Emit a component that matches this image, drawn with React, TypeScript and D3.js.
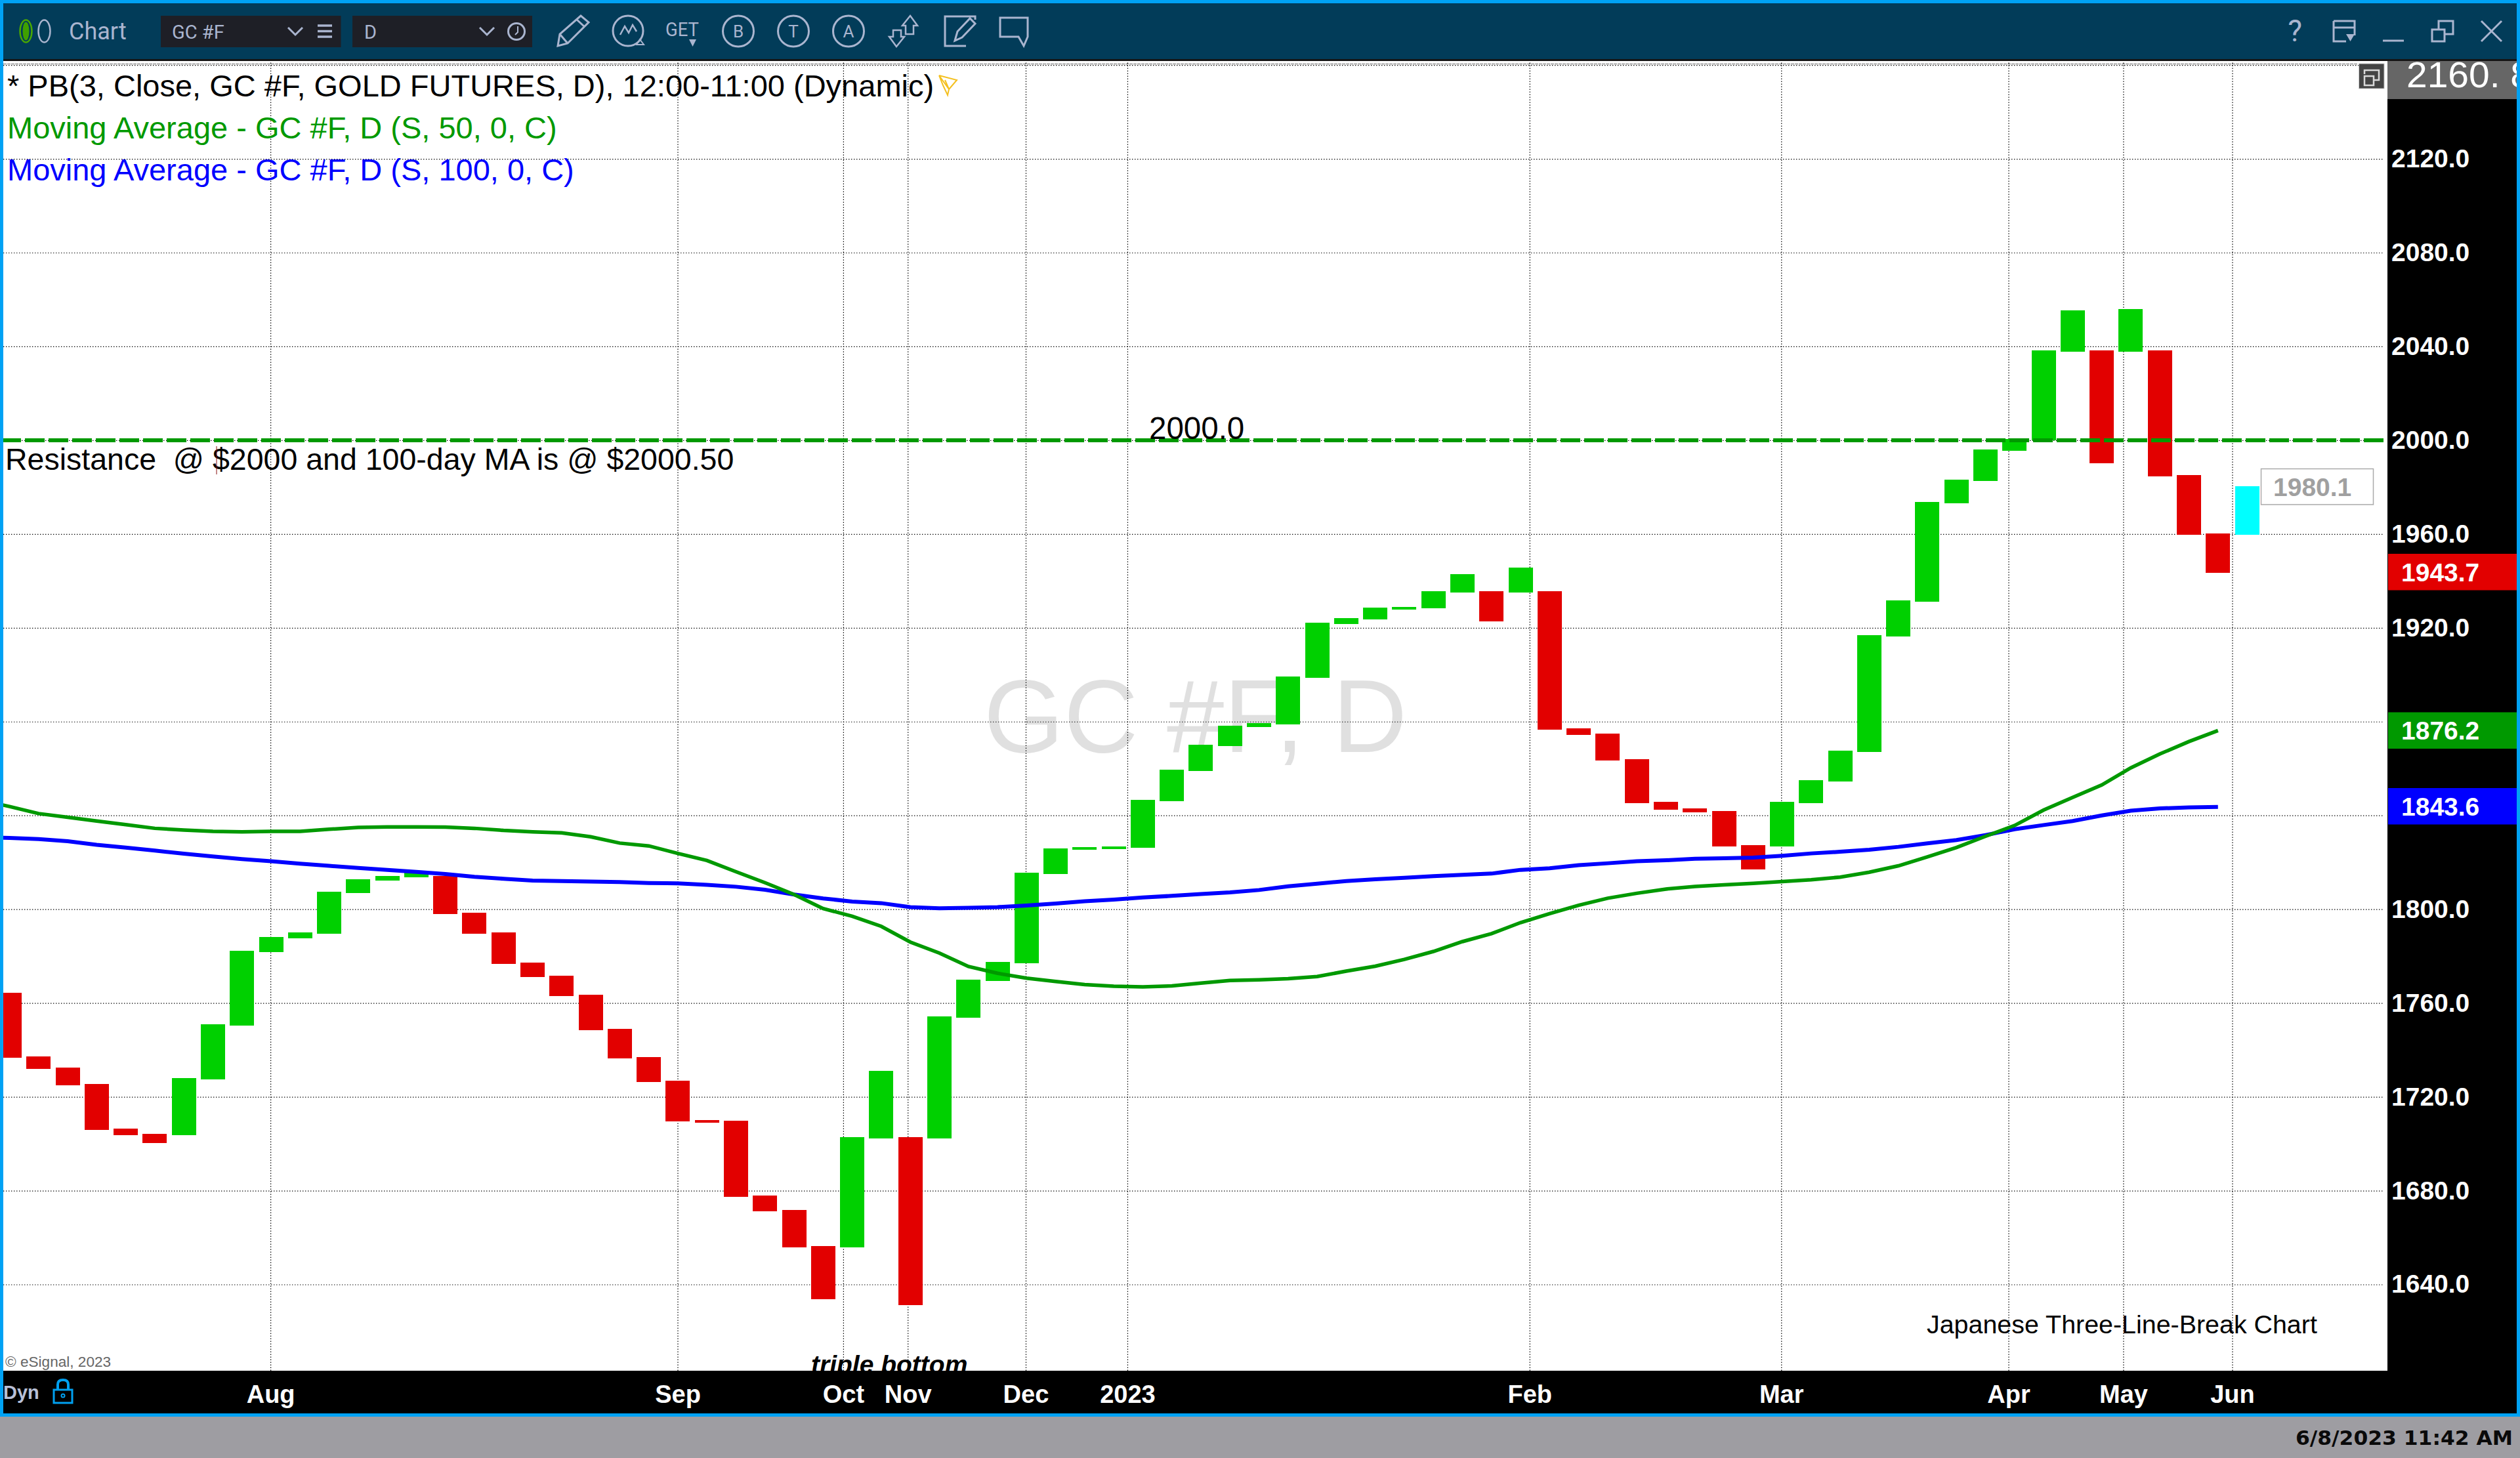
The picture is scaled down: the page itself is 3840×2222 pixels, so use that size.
import React, { useEffect, useRef } from 'react';
import * as d3 from 'd3';

// three-line-break bricks, one per column
const barTop = [
  1764.4, 1737.3, 1732.5, 1725.5, 1706.4, 1704.2, 1728.0, 1751.0, 1782.2, 1788.1,
  1790.1, 1807.4, 1812.8, 1814.2, 1816.1, 1814.2, 1798.5, 1790.1, 1777.2, 1771.6,
  1763.5, 1748.9, 1736.9, 1726.9, 1710.1, 1709.8, 1677.9, 1671.8, 1656.4, 1702.8,
  1731.0, 1702.8, 1754.3, 1770.0, 1777.6, 1815.6, 1826.0, 1826.6, 1826.8, 1846.7,
  1859.5, 1870.2, 1878.2, 1879.4, 1899.2, 1922.2, 1924.2, 1928.7, 1928.9, 1935.6,
  1942.9, 1935.6, 1945.7, 1935.6, 1877.1, 1874.9, 1864.0, 1845.8, 1843.0, 1842.0,
  1827.3, 1845.8, 1855.0, 1867.6, 1916.9, 1931.6, 1973.7, 1983.2, 1996.1, 2000.5,
  2038.2, 2055.4, 2038.2, 2055.9, 2038.2, 1985.1, 1960.2, 1980.4,
];
const barBottom = [
  1736.6, 1731.9, 1725.0, 1705.9, 1703.6, 1700.3, 1703.6, 1727.4, 1750.3, 1781.7,
  1787.6, 1789.5, 1806.9, 1812.2, 1813.6, 1798.0, 1789.5, 1776.7, 1771.1, 1763.0,
  1748.4, 1736.4, 1726.3, 1709.5, 1708.9, 1677.4, 1671.2, 1655.8, 1633.7, 1655.8,
  1702.2, 1631.3, 1702.2, 1753.7, 1769.5, 1777.0, 1815.0, 1825.4, 1825.7, 1826.3,
  1846.1, 1859.0, 1869.5, 1877.7, 1878.9, 1898.7, 1921.6, 1923.6, 1927.8, 1928.3,
  1935.1, 1922.8, 1935.1, 1876.6, 1874.4, 1863.4, 1845.2, 1842.4, 1841.3, 1826.7,
  1817.0, 1826.7, 1845.2, 1854.4, 1867.1, 1916.3, 1931.1, 1973.1, 1982.6, 1995.5,
  2000.0, 2037.8, 1990.2, 2037.8, 1984.6, 1959.7, 1943.5, 1959.7,
];
// d = down, u = up, c = the unfinished brick
const barKind = [
  'd', 'd', 'd', 'd', 'd', 'd', 'u', 'u', 'u', 'u', 'u', 'u', 'u', 'u', 'u', 'd', 'd', 'd', 'd', 'd',
  'd', 'd', 'd', 'd', 'd', 'd', 'd', 'd', 'd', 'u', 'u', 'd', 'u', 'u', 'u', 'u', 'u', 'u', 'u', 'u',
  'u', 'u', 'u', 'u', 'u', 'u', 'u', 'u', 'u', 'u', 'u', 'd', 'u', 'd', 'd', 'd', 'd', 'd', 'd', 'd',
  'd', 'u', 'u', 'u', 'u', 'u', 'u', 'u', 'u', 'u', 'u', 'u', 'd', 'u', 'd', 'd', 'd', 'c',
];

// moving averages, first value sits one column left of the first brick
const ma50 = [
  1846.6, 1843.8, 1840.8, 1839.2, 1837.6, 1836.1, 1834.5, 1833.8, 1833.2, 1833.0,
  1833.2, 1833.2, 1834.1, 1834.9, 1835.1, 1835.1, 1835.0, 1834.5, 1833.6, 1833.0,
  1832.6, 1830.9, 1828.2, 1827.0, 1823.8, 1820.8, 1816.0, 1811.3, 1806.3, 1800.3,
  1797.0, 1792.7, 1786.0, 1781.3, 1775.6, 1772.7, 1770.6, 1769.2, 1767.9, 1767.2,
  1766.9, 1767.3, 1768.5, 1769.6, 1769.9, 1770.4, 1771.3, 1773.6, 1775.7, 1778.6,
  1782.0, 1786.2, 1789.6, 1794.3, 1798.1, 1801.7, 1804.7, 1806.8, 1808.6, 1809.7,
  1810.4, 1811.0, 1811.8, 1812.6, 1813.7, 1815.8, 1818.5, 1822.3, 1826.3, 1831.1,
  1835.7, 1842.3, 1847.7, 1853.0, 1860.3, 1866.2, 1871.5, 1876.2,
];
const ma100 = [
  1830.7, 1830.4, 1829.9, 1829.0, 1827.5, 1826.3, 1825.0, 1823.7, 1822.5, 1821.4,
  1820.5, 1819.4, 1818.5, 1817.6, 1816.8, 1815.9, 1815.0, 1813.8, 1813.0, 1812.2,
  1812.0, 1811.8, 1811.6, 1811.2, 1811.0, 1810.4, 1809.6, 1808.3, 1806.3, 1804.6,
  1803.3, 1802.6, 1800.9, 1800.4, 1800.6, 1800.9, 1801.6, 1802.4, 1803.4, 1804.1,
  1805.0, 1805.7, 1806.5, 1807.2, 1808.2, 1809.8, 1810.9, 1812.0, 1812.8, 1813.4,
  1814.1, 1814.7, 1815.2, 1816.8, 1817.5, 1818.8, 1819.6, 1820.5, 1820.9, 1821.5,
  1821.7, 1822.0, 1822.8, 1823.8, 1824.5, 1825.4, 1826.6, 1828.1, 1829.5, 1831.6,
  1834.1, 1835.9, 1837.6, 1840.0, 1842.0, 1843.0, 1843.4, 1843.6,
];

// 1840.0 sits fully under the blue quote box, so it gets a grid line but no label
const priceTicks = [1640, 1680, 1720, 1760, 1800, 1880, 1920, 1960, 2000, 2040, 2080, 2120];
const gridTicks = [...priceTicks, 1840, 2160];
const monthNames = ['Aug', 'Sep', 'Oct', 'Nov', 'Dec', '2023', 'Feb', 'Mar', 'Apr', 'May', 'Jun'];
const monthBars = [8.98, 22.99, 28.69, 30.91, 34.97, 38.47, 52.31, 60.97, 68.79, 72.74, 76.49];

const resistance = 2000;
const lastQuote = 1943.7;
const liveQuote = 1980.1;
const ma50Quote = 1876.2;
const ma100Quote = 1843.6;

const W = 3840;
const H = 2222;
const plot = { left: 5, right: 3638, top: 93, bottom: 2089 };
const SANS = '"Liberation Sans", Arial, sans-serif';
const CHROME = '#aab5cf';
const kindColor: Record<string, string> = { d: '#e20000', u: '#00d000', c: '#00ffff' };

type Sel = d3.Selection<any, unknown, null, undefined>;

const text = (g: Sel, x: number, y: number, str: string, size: number, fill: string, extra: Record<string, any> = {}) => {
  const t = g.append('text')
    .attr('x', x).attr('y', y)
    .attr('font-family', SANS)
    .attr('font-size', size)
    .attr('fill', fill)
    .style('white-space', 'pre')
    .text(str);
  Object.entries(extra).forEach(([k, v]) => t.attr(k, v));
  return t;
};

const path = (g: Sel, d: string, color = CHROME, sw = 3) =>
  g.append('path').attr('d', d).attr('fill', 'none').attr('stroke', color).attr('stroke-width', sw);

const circle = (g: Sel, cx: number, cy: number, r: number, color = CHROME, sw = 3) =>
  g.append('circle').attr('cx', cx).attr('cy', cy).attr('r', r).attr('fill', 'none').attr('stroke', color).attr('stroke-width', sw);

const box = (g: Sel, x: number, y: number, w: number, h: number, fill: string) =>
  g.append('rect').attr('x', x).attr('y', y).attr('width', w).attr('height', h).attr('fill', fill);

function drawToolbar(g: Sel) {
  box(g, 0, 0, W, 5, '#00a2f4');
  box(g, 5, 5, W - 10, 85, '#023c59');
  box(g, 5, 90, W - 10, 3, '#151515');

  // chart status rings
  g.append('ellipse').attr('cx', 39.5).attr('cy', 47.5).attr('rx', 5).attr('ry', 14).attr('fill', '#3fa000');
  g.append('ellipse').attr('cx', 39.5).attr('cy', 47.5).attr('rx', 9).attr('ry', 17).attr('fill', 'none').attr('stroke', '#4aa800').attr('stroke-width', 2.5);
  g.append('ellipse').attr('cx', 67.5).attr('cy', 47.5).attr('rx', 9).attr('ry', 17).attr('fill', '#023c59').attr('stroke', CHROME).attr('stroke-width', 2.5);

  text(g, 105, 60, 'Chart', 36, CHROME, { 'font-family': 'Roboto' });

  box(g, 245, 24, 274.5, 48, '#1e1f26');
  box(g, 537, 24, 274, 48, '#1e1f26');
  text(g, 262, 59, 'GC #F', 29, CHROME, { 'font-family': 'Roboto' });
  text(g, 555, 59, 'D', 29, CHROME, { 'font-family': 'Roboto' });
  path(g, 'M439 42 L450 53 L461 42');
  path(g, 'M731 42 L742 53 L753 42');
  path(g, 'M484 39 H506 M484 47.5 H506 M484 56 H506', CHROME, 3.5);
  circle(g, 787, 48, 12.5);
  path(g, 'M789 40 V49 L785 53', CHROME, 2);

  // drawing tools
  path(g, 'M850 70 L853 52 L885 24 L897 34 L865 66 Z M853 52 L865 66 M879 30 L891 41');
  circle(g, 957, 47, 23);
  path(g, 'M945 53 L952 40 L958 50 L964 38 L970 48', CHROME, 2.5);
  path(g, 'M975 60 L970 68 L981 68 Z', CHROME, 2);
  text(g, 1014, 55, 'GET', 30, CHROME, { 'font-family': 'Roboto', textLength: 51, lengthAdjust: 'spacingAndGlyphs' });
  g.append('path').attr('d', 'M1050 60 H1061 L1055.5 71 Z').attr('fill', CHROME);
  ['B', 'T', 'A'].forEach((c, i) => {
    const cx = 1125 + i * 84;
    circle(g, cx, 47.5, 23.5);
    text(g, cx, 57, c, 26, CHROME, { 'text-anchor': 'middle', 'font-family': 'Roboto' });
  });
  path(g, 'M1387 24 L1398 39 H1392 V52 H1380 V39 H1375 Z', CHROME, 2.5);
  path(g, 'M1366 71 L1355 56 H1361 V46 H1373 V56 H1378 Z', CHROME, 2.5);
  path(g, 'M1486 30 V25 H1440 V70 H1472 M1455 62 L1459 48 L1478 28 L1486 36 L1466 57 Z');
  path(g, 'M1524 27 H1566 V56 L1560 70 L1552 56 H1524 Z');

  // window controls
  text(g, 3497, 63, '?', 46, CHROME, { 'text-anchor': 'middle', 'font-family': 'Roboto' });
  path(g, 'M3556 32 H3588 V54 M3556 32 V63 H3575 M3556 42 H3588');
  g.append('path').attr('d', 'M3575 52 H3588 L3581.5 63 Z').attr('fill', CHROME);
  path(g, 'M3631 62 H3663');
  path(g, 'M3706 45 H3725 V63 H3706 Z M3716 45 V32 H3738 V52 H3725');
  path(g, 'M3781 32 L3812 63 M3812 32 L3781 63');
}

function drawPlot(g: Sel, x: d3.ScaleLinear<number, number>, y: d3.ScaleLinear<number, number>) {
  const plotW = plot.right - plot.left;
  const plotH = plot.bottom - plot.top;

  g.append('clipPath').attr('id', 'plot-clip').append('rect')
    .attr('x', plot.left).attr('y', plot.top).attr('width', plotW).attr('height', plotH);

  box(g, plot.left, plot.top, plotW, plotH, '#ffffff');

  // watermark
  text(g, 1499, 1146, 'GC #F, D', 158, '#e0e0e0', { textLength: 645, lengthAdjust: 'spacingAndGlyphs' });

  // dotted grid
  const gridY = g.append('g')
    .attr('transform', `translate(${plot.left},0)`)
    .call(d3.axisRight(y).tickValues(gridTicks).tickSize(plotW - 6).tickFormat(() => ''));
  const gridX = g.append('g')
    .attr('transform', `translate(0,${plot.bottom})`)
    .call(d3.axisTop(x).tickValues(monthBars).tickSize(plotH).tickFormat(() => ''));
  [gridY, gridX].forEach(a => {
    a.select('.domain').remove();
    a.selectAll('line').attr('stroke', '#000').attr('stroke-width', 1.2).attr('stroke-dasharray', '1.4 2.6');
  });
  g.append('line').attr('x1', plot.left).attr('x2', plot.right - 45).attr('y1', 97.5).attr('y2', 97.5)
    .attr('stroke', '#666').attr('stroke-width', 1).attr('stroke-dasharray', '5 1');

  // legend
  text(g, 11, 147, '* PB(3, Close, GC #F, GOLD FUTURES, D), 12:00-11:00 (Dynamic)', 47, '#000000');
  text(g, 11, 211, 'Moving Average - GC #F, D (S, 50, 0, C)', 47, '#009900');
  text(g, 11, 275, 'Moving Average - GC #F, D (S, 100, 0, C)', 47, '#0000ff');
  path(g, 'M1431 115 L1446 136 L1444 145 L1437 130 Z M1431 115 L1458 122 L1446 136 M1440 122 L1446 136', '#f4c020', 2);

  const clipped = g.append('g').attr('clip-path', 'url(#plot-clip)');

  clipped.selectAll('rect.brick')
    .data(barTop)
    .join('rect')
    .attr('class', 'brick')
    .attr('x', (_, i) => x(i) - 18.5)
    .attr('width', 37)
    .attr('y', d => y(d))
    .attr('height', (d, i) => y(barBottom[i]) - y(d))
    .attr('fill', (_, i) => kindColor[barKind[i]])
    .attr('shape-rendering', 'crispEdges');

  const maLine = d3.line<number>()
    .x((_, i) => x(i - 1))
    .y(d => y(d));
  [
    { data: ma100, color: '#0000ff', width: 6 },
    { data: ma50, color: '#009900', width: 5.5 },
  ].forEach(s => {
    clipped.append('path')
      .attr('d', maLine(s.data))
      .attr('fill', 'none')
      .attr('stroke', s.color)
      .attr('stroke-width', s.width);
  });

  // resistance line
  clipped.append('line')
    .attr('x1', 2).attr('x2', 3632)
    .attr('y1', y(resistance)).attr('y2', y(resistance))
    .attr('stroke', '#009900').attr('stroke-width', 6).attr('stroke-dasharray', '30 6');

  text(g, 1751, 669, '2000.0', 47.5, '#000000');
  text(g, 8, 716, 'Resistance  @ $2000 and 100-day MA is @ $2000.50', 46.5, '#000000');
  g.append('line').attr('x1', 330).attr('x2', 330).attr('y1', 680).attr('y2', 723).attr('stroke', '#8a1010').attr('stroke-width', 1);

  text(g, 1236, 2093, 'triple bottom', 39, '#000000', { 'font-weight': 'bold', 'font-style': 'italic' });
  text(g, 2936, 2032, 'Japanese Three-Line-Break Chart', 39.4, '#000000');
  text(g, 8, 2083, '© eSignal, 2023', 22.6, '#666666');

  // unfinished brick quote
  g.append('rect').attr('x', 3445.5).attr('y', 714.5).attr('width', 171).attr('height', 54.5)
    .attr('fill', '#ffffff').attr('stroke', '#aaaaaa').attr('stroke-width', 1.5);
  text(g, 3464, 756, d3.format('.1f')(liveQuote), 39, '#a0a0a0', { 'font-weight': 'bold' });

  // restore button
  box(g, 3594.5, 97, 38.5, 38, '#444444').attr('stroke', '#c8c8c8').attr('stroke-width', 1);
  path(g, 'M3603 113 V107 H3625 V122 H3618 M3603 116 H3617 V130 H3603 Z', '#d8d8d8', 2.5);
}

function drawAxes(g: Sel, x: d3.ScaleLinear<number, number>, y: d3.ScaleLinear<number, number>) {
  box(g, plot.right, plot.top, W - plot.right, 2154 - plot.top, '#000000');
  box(g, plot.left, plot.bottom, W - plot.left, 2154 - plot.bottom, '#000000');

  const priceAxis = g.append('g')
    .attr('transform', 'translate(3644,0)')
    .call(d3.axisRight(y).tickValues(priceTicks).tickSize(0).tickPadding(0).tickFormat(d3.format('.1f') as any));
  priceAxis.select('.domain').remove();
  priceAxis.selectAll('text')
    .attr('font-family', SANS).attr('font-size', 39).attr('font-weight', 'bold').attr('fill', '#ffffff');

  const timeAxis = g.append('g')
    .attr('transform', `translate(0,${plot.bottom})`)
    .call(d3.axisBottom(x).tickValues(monthBars).tickSize(0).tickPadding(0)
      .tickFormat((_, i) => monthNames[i]));
  timeAxis.select('.domain').remove();
  timeAxis.selectAll('text')
    .attr('font-family', SANS).attr('font-size', 38).attr('font-weight', 'bold').attr('fill', '#ffffff')
    .attr('dy', 0).attr('y', 49);

  // big gray current-scale block, the digits run under the window frame
  const top = g.append('g');
  box(top, plot.right, plot.top, W - plot.right, 58, '#666666');
  g.append('clipPath').attr('id', 'hi-clip').append('rect')
    .attr('x', plot.right).attr('y', plot.top).attr('width', 197).attr('height', 58);
  text(top, 3667, 133, '2160. 8', 56, '#ffffff', {
    'clip-path': 'url(#hi-clip)', 'font-family': '"Liberation Sans Narrow", "Liberation Sans"',
    textLength: 190, lengthAdjust: 'spacingAndGlyphs',
  });

  [
    { value: lastQuote, fill: '#e20000', y0: 844 },
    { value: ma50Quote, fill: '#009900', y0: 1085.5 },
    { value: ma100Quote, fill: '#0000ff', y0: 1201 },
  ].forEach(q => {
    box(g, 3639, q.y0, 196, 55.5, q.fill);
    text(g, 3659, q.y0 + 41.5, d3.format('.1f')(q.value), 39, '#ffffff', { 'font-weight': 'bold' });
  });

  // lower left
  text(g, 5, 2132, 'Dyn', 29, '#b8c0d8', { 'font-weight': 'bold' });
  path(g, 'M88 2118 V2110 Q88 2103 96 2103 Q104 2103 104 2110 V2118', '#00a0f0', 4);
  path(g, 'M82 2118 H110 V2138 H82 Z', '#00a0f0', 3);
  circle(g, 96, 2127, 2.5, '#00a0f0', 2);
}

const App: React.FC = () => {
  const svgRef = useRef<SVGSVGElement>(null);

  useEffect(() => {
    if (!svgRef.current) return;
    document.body.style.margin = '0';

    const svg = d3.select(svgRef.current);
    svg.selectAll('*').remove();

    const x = d3.scaleLinear().domain([0, 77]).range([14.5, 3424.06]);
    const y = d3.scaleLinear().domain([1640, 2000]).range([1957.5, 670.9]);

    box(svg as any, 0, 0, W, H, '#9e9da2');
    drawPlot(svg as any, x, y);
    drawAxes(svg as any, x, y);
    drawToolbar(svg as any);

    // window frame
    box(svg as any, 0, 0, 5, 2159, '#00a2f4');
    box(svg as any, W - 5, 0, 5, 2159, '#00a2f4');
    box(svg as any, 0, 2154, W, 5, '#00a2f4');

    text(svg as any, 3498, 2202, '6/8/2023 11:42 AM', 31, '#0a0a0a', {
      'font-family': '"DejaVu Sans"', 'font-weight': 'bold', textLength: 331, lengthAdjust: 'spacingAndGlyphs',
    });
  }, []);

  return (
    <svg
      ref={svgRef}
      width={W}
      height={H}
      style={{ position: 'absolute', left: 0, top: 0, display: 'block' }}
    />
  );
};

export default App;
